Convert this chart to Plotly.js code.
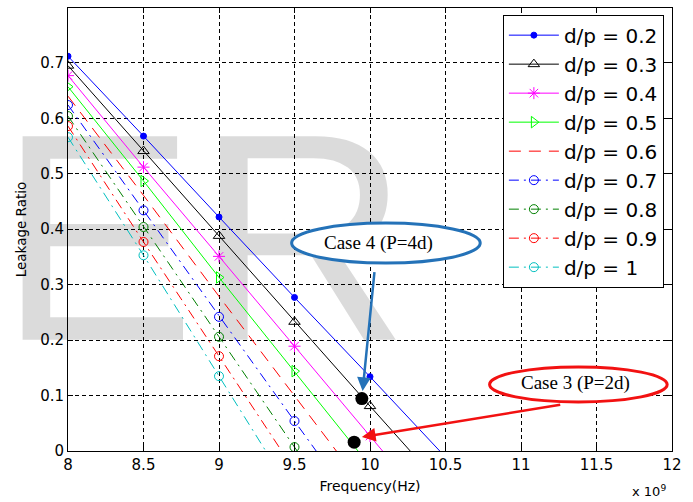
<!DOCTYPE html>
<html>
<head>
<meta charset="utf-8">
<script src="https://cdn.plot.ly/plotly-3.0.1.min.js"></script>
<style>html,body{margin:0;padding:0;background:#fff;}#chart{width:693px;height:502px;}</style>
</head>
<body>
<div id="chart"></div>
<script>
// Frequency in units of 1e9 Hz
var freq = [8, 8.5, 9, 9.5, 10, 10.5];
var ratio_02 = [0.712, 0.568, 0.422, 0.277, 0.134, -0.011];
var ratio_03 = [0.695, 0.541, 0.388, 0.233, 0.081, -0.071];
var ratio_04 = [0.677, 0.512, 0.351, 0.189, 0.027, -0.135];
var ratio_05 = [0.657, 0.487, 0.313, 0.144, -0.027];
var ratio_06 = [0.640, 0.461, 0.279, 0.099, -0.080];
var ratio_07 = [0.624, 0.434, 0.242, 0.054, -0.134];
var ratio_08 = [0.604, 0.404, 0.206, 0.007, -0.190];
var ratio_09 = [0.586, 0.377, 0.171, -0.035];
var ratio_10 = [0.566, 0.353, 0.135, -0.083];
var seriesNames = ['d/p = 0.2','d/p = 0.3','d/p = 0.4','d/p = 0.5','d/p = 0.6','d/p = 0.7','d/p = 0.8','d/p = 0.9','d/p = 1'];
var caseX = [9.946, 9.895];
var caseY = [0.0945, 0.016];
var caseLabels = ['Case 4 (P=4d)', 'Case 3 (P=2d)'];
var xTicks = [8, 8.5, 9, 9.5, 10, 10.5, 11, 11.5, 12];
var yTicks = [0, 0.1, 0.2, 0.3, 0.4, 0.5, 0.6, 0.7];

var ys = [ratio_02, ratio_03, ratio_04, ratio_05, ratio_06, ratio_07, ratio_08, ratio_09, ratio_10];
var styles = [
  {c:'#0000ff', dash:'solid', sym:'circle', size:6},
  {c:'#000000', dash:'solid', sym:'triangle-up-open', size:10},
  {c:'#ff00ff', dash:'solid', sym:'asterisk-open', size:10},
  {c:'#00ff00', dash:'solid', sym:'triangle-right-open', size:10},
  {c:'#ff0000', dash:'12px,8px', sym:null},
  {c:'#0000ff', dash:'10px,5px,2px,5px', sym:'circle-open', size:9},
  {c:'#008000', dash:'10px,5px,2px,5px', sym:'circle-open', size:9},
  {c:'#ff0000', dash:'10px,5px,2px,5px', sym:'circle-open', size:9},
  {c:'#00bfbf', dash:'10px,5px,2px,5px', sym:'circle-open', size:9}
];

var traces = [];
// watermark (behind everything)
traces.push({
  x:[8.9], y:[0.334], mode:'text', text:['ER'],
  textposition:'middle center',
  textfont:{family:'Liberation Sans, Arial, sans-serif', size:296, color:'rgba(0,0,0,0.14)'},
  cliponaxis:false, showlegend:false, hoverinfo:'skip'
});
for (var i=0;i<ys.length;i++){
  var s = styles[i];
  var t = {
    x: freq.slice(0, ys[i].length), y: ys[i], name: seriesNames[i],
    type:'scatter', mode: s.sym ? 'lines+markers' : 'lines',
    line:{color:s.c, width:1, dash:s.dash}
  };
  if (s.sym) t.marker = {symbol:s.sym, size:s.size, color:s.c, line:{color:s.c, width:1}};
  traces.push(t);
}
traces.push({x:caseX, y:caseY, mode:'markers', marker:{color:'#000', size:13}, showlegend:false, hoverinfo:'skip'});

var blue = '#2472b8', red = '#f21111';
var layout = {
  width:693, height:502,
  margin:{l:68, r:21, t:8, b:51},
  paper_bgcolor:'#fff', plot_bgcolor:'#fff',
  font:{family:'DejaVu Sans, sans-serif', color:'#000'},
  showlegend:true,
  legend:{x:0.72, y:0.985, xanchor:'left', yanchor:'top', bgcolor:'#fff', bordercolor:'#000', borderwidth:1,
          font:{family:'DejaVu Sans, sans-serif', size:20, color:'#000'}, itemwidth:50, tracegroupgap:0},
  xaxis:{range:[8,12], tickvals:xTicks, ticks:'inside', ticklen:5, tickcolor:'#000', mirror:'ticks',
         showline:true, linecolor:'#000', linewidth:1, showgrid:true, gridcolor:'#000', griddash:'4px,3px', gridwidth:1,
         zeroline:false, tickfont:{size:15, family:'DejaVu Sans, sans-serif'},
         title:{text:'Frequency(Hz)', font:{size:14, family:'DejaVu Sans, sans-serif'}, standoff:8}},
  yaxis:{range:[0,0.799], tickvals:yTicks, ticks:'inside', ticklen:5, tickcolor:'#000', mirror:'ticks',
         showline:true, linecolor:'#000', linewidth:1, showgrid:true, gridcolor:'#000', griddash:'4px,3px', gridwidth:1,
         zeroline:false, tickfont:{size:15, family:'DejaVu Sans, sans-serif'},
         title:{text:'Leakage Ratio', font:{size:13.5, family:'DejaVu Sans, sans-serif'}, standoff:10}},
  shapes:[
    {type:'circle', xref:'x', yref:'y', x0:9.481, x1:10.73, y0:0.339, y1:0.411, fillcolor:'#fff', line:{color:blue, width:3}, layer:'above'},
    {type:'circle', xref:'x', yref:'y', x0:10.792, x1:11.968, y0:0.0884, y1:0.1515, fillcolor:'#fff', line:{color:red, width:3}, layer:'above'}
  ],
  annotations:[
    {x:10.055, y:0.375, xref:'x', yref:'y', text:caseLabels[0], showarrow:false,
     font:{family:'Liberation Serif, Times New Roman, serif', size:19, color:'#000'}},
    {x:11.36, y:0.122, xref:'x', yref:'y', text:caseLabels[1], showarrow:false,
     font:{family:'Liberation Serif, Times New Roman, serif', size:19, color:'#000'}},
    {x:9.951, y:0.108, xref:'x', yref:'y', ax:10.035, ay:0.338, axref:'x', ayref:'y', text:' ', showarrow:true,
     arrowhead:2, arrowsize:1.1, arrowwidth:2.5, arrowcolor:blue},
    {x:9.946, y:0.0253, xref:'x', yref:'y', ax:11.283, ay:0.0843, axref:'x', ayref:'y', text:' ', showarrow:true,
     arrowhead:2, arrowsize:1.1, arrowwidth:2.5, arrowcolor:red},
    {x:0.993, y:-0.068, xref:'paper', yref:'paper', xanchor:'right', yanchor:'top', text:'x 10<sup>9</sup>', showarrow:false,
     font:{family:'DejaVu Sans, sans-serif', size:13, color:'#000'}}
  ]
};
Plotly.newPlot('chart', traces, layout, {displayModeBar:false, staticPlot:true});
</script>
</body>
</html>
